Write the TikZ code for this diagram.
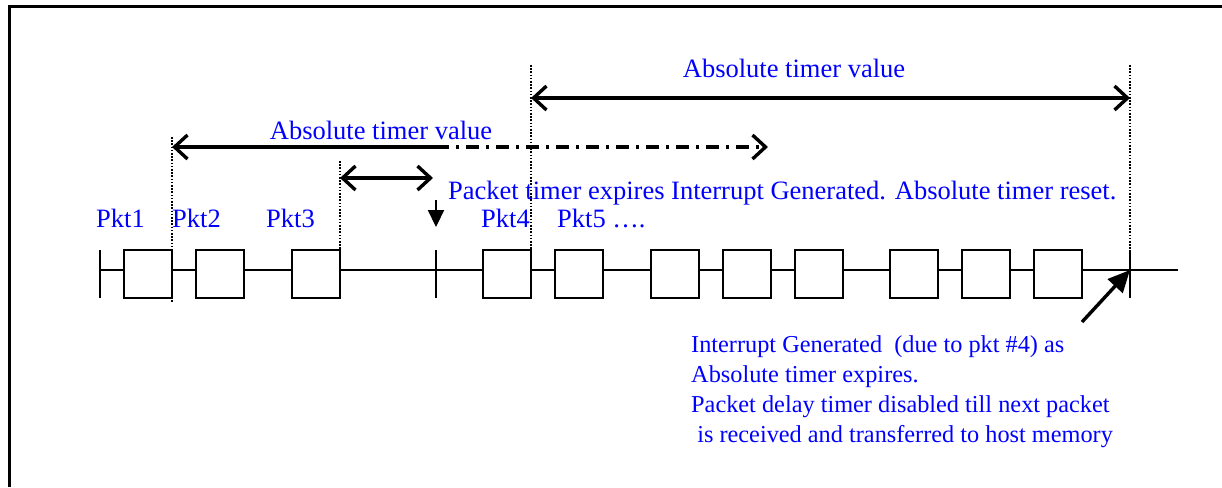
\documentclass[tikz,border=0pt]{standalone}
\usepackage{fontspec}
\setmainfont{Liberation Serif}
\usetikzlibrary{arrows.meta}
\definecolor{txtblue}{RGB}{0,0,255}
\tikzset{
  pkt/.style={draw, line width=2.2pt, minimum width=48pt, minimum height=48pt, inner sep=0pt, fill=white},
  lbl/.style={text=txtblue, font=\fontsize{26.5}{30}\selectfont, inner sep=0pt},
  notelbl/.style={text=txtblue, font=\fontsize{24.3}{30}\selectfont, inner sep=0pt},
  dotline/.style={line width=2.2pt, dash pattern=on 1.6pt off 1.6pt},
  barb/.style={Straight Barb[length=13pt,width=24pt,line width=3.4pt]},
  dim/.style={line width=3.4pt, {Straight Barb[length=13pt,width=24pt,line width=3.4pt]}-{Straight Barb[length=13pt,width=24pt,line width=3.4pt]}},
  tick/.style={line width=2pt},
}
\begin{document}
\begin{tikzpicture}[x=1pt,y=-1pt]
\useasboundingbox (0,0) rectangle (1222,487);
% frame
\draw[line width=3pt] (9,487) -- (9,7) -- (1222,7);

% timeline
\coordinate (t0) at (100,270);
\coordinate (tend) at (1178,270);
\draw[tick] (t0) -- (tend);
\draw[tick] (100,250) -- (100,298);
\draw[tick] (436,250) -- (436,298);
\draw[tick] (1130,250) -- (1130,298);
\coordinate (tk) at (436,270);
\coordinate (tx) at (1130,270);

% packets
\foreach \n/\x in {1/148,2/220,3/316,4/507,5/579,6/675,7/747,8/819,9/914,10/986,11/1058}
  \node[pkt] (b\n) at (\x,274) {};

% dotted verticals
\coordinate (d1t) at (172,137); \coordinate (d1b) at (172,303);
\coordinate (d2t) at (340,161); \coordinate (d2b) at (340,255);
\coordinate (d3t) at (531,65);  \coordinate (d3b) at (531,279);
\coordinate (d4t) at (1130,65); \coordinate (d4b) at (1130,253);
\draw[dotline] (d1t) -- (d1b);
\draw[dotline] (d2t) -- (d2b);
\draw[dotline] (d3t) -- (d3b);
\draw[dotline] (d4t) -- (d4b);

% top absolute timer arrow
\coordinate (a1l) at (531,98); \coordinate (a1r) at (1130,98);
\draw[dim] (a1l) -- (a1r);
\node[lbl] (lab1) at (794,68) {Absolute timer value};

% second absolute timer arrow (solid + dash-dot)
\coordinate (a2l) at (172,147); \coordinate (a2m) at (436,147); \coordinate (a2r) at (768,147);
\draw[line width=3.4pt, {Straight Barb[length=13pt,width=24pt,line width=3.4pt]}-] (a2l) -- (a2m);
\draw[line width=3.4pt, dash pattern=on 13pt off 7pt on 3pt off 7pt, -{Straight Barb[length=13pt,width=24pt,line width=3.4pt]}] (a2m) -- (a2r);
\node[lbl] (lab2) at (381,130) {Absolute timer value};

% packet timer arrow
\coordinate (a3l) at (340,178); \coordinate (a3r) at (433,178);
\draw[dim] (a3l) -- (a3r);

% down arrow
\coordinate (dn) at (436,200);
\draw[line width=2.2pt, -{Triangle[length=17pt,width=16pt]}] (dn) -- (tk |- 0,227);

\node[lbl, anchor=base west] (pt) at (448,199) {Packet timer expires Interrupt Generated. Absolute timer reset.};

% packet labels
\node[lbl, anchor=base west] (p1) at (96,227) {Pkt1};
\node[lbl, anchor=base west] (p2) at (172,227) {Pkt2};
\node[lbl, anchor=base west] (p3) at (266,227) {Pkt3};
\node[lbl, anchor=base west] (p4) at (481,227) {Pkt4};
\node[lbl, anchor=base west] (p5) at (557,227) {Pkt5 \dots.};

% diagonal arrow
\coordinate (dg) at (1082,322);
\draw[line width=3.4pt, -{Triangle[length=22pt,width=20pt]}] (dg) -- (tx);

% bottom note
\node[notelbl, anchor=north west, align=left] (note) at (691,335) {Interrupt Generated\ \ (due to pkt \#4) as\\Absolute timer expires.\\Packet delay timer disabled till next packet\\\ is received and transferred to host memory};
\end{tikzpicture}
\end{document}
